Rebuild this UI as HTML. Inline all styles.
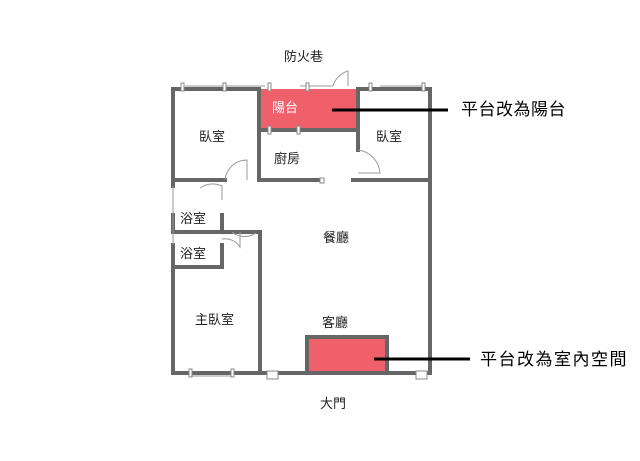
<!DOCTYPE html>
<html><head><meta charset="utf-8"><style>
body{margin:0;background:#fff;width:640px;height:461px;overflow:hidden;position:relative;font-family:"Liberation Sans","Noto Sans CJK TC",sans-serif}
.t{position:absolute;font-size:13px;color:#222;white-space:nowrap;line-height:1}
.b{position:absolute;font-size:17px;color:#000;white-space:nowrap;line-height:1}
</style></head><body>
<svg width="640" height="461" style="position:absolute;left:0;top:0">
<rect x="259" y="89" width="99" height="41" fill="#f0606a"/>
<rect x="307" y="337" width="80" height="36" fill="#f0606a"/>
<g stroke="#666" stroke-width="4" fill="none" stroke-linecap="square">
<path d="M173 89H259M259 89V180M358 89H430V373"/>
<path d="M259 130H358M358 89V150"/>
<path d="M173 89V186M173 215V232M173 245V267"/>
<path d="M173 267V373H260"/>
<path d="M173 180H225M260 180H322M353 180H430"/>
<path d="M173 232H260M260 232V373M173 267H222M222 215V232M222 245V267"/>
<path d="M260 373H430"/>
<path d="M307 373V337H387V373"/>
</g>
<g stroke="#999" stroke-width="1" fill="none">
<path d="M185 86H226M226 86H265M300 86H333M380 86H423"/>
<path d="M333 86A22 22 0 0 1 348 71V86"/>
<path d="M225 180A22 22 0 0 1 247 160V180"/>
<path d="M358 150A25 25 0 0 1 380 173H358"/>
<path d="M200 188A22 22 0 0 1 222 186V200M173 186V245"/>
<path d="M222 239A18 18 0 0 1 240 247V232M232 232A20 20 0 0 0 256 233"/>
<path d="M190 376H233"/>
</g>
<g fill="#fff" stroke="#888" stroke-width="1">
<rect x="181" y="83" width="3" height="8"/><rect x="223" y="83" width="3" height="8"/>
<rect x="268" y="83" width="3" height="8"/><rect x="306" y="83" width="3" height="8"/>
<rect x="369" y="83" width="3" height="8"/><rect x="422" y="83" width="3" height="8"/>
<rect x="268" y="126" width="3" height="8"/><rect x="297" y="126" width="3" height="8"/>
<rect x="189" y="369" width="3" height="8"/><rect x="231" y="369" width="3" height="8"/>
<rect x="267" y="371" width="11" height="8"/><rect x="416" y="371" width="11" height="8"/>
<rect x="320" y="178" width="4" height="5"/>
</g>
<g stroke="#000" stroke-width="3">
<line x1="332" y1="110" x2="448" y2="110"/>
<line x1="374" y1="359" x2="470" y2="359"/>
</g>
</svg>
<div class="t" style="left:284px;top:50px">防火巷</div>
<div class="t" style="left:272px;top:101px;color:#fff">陽台</div>
<div class="t" style="left:199px;top:130px">臥室</div>
<div class="t" style="left:376px;top:130px">臥室</div>
<div class="t" style="left:274px;top:152px">廚房</div>
<div class="t" style="left:180px;top:212px">浴室</div>
<div class="t" style="left:180px;top:247px">浴室</div>
<div class="t" style="left:323px;top:231px">餐廳</div>
<div class="t" style="left:195px;top:313px">主臥室</div>
<div class="t" style="left:322px;top:316px">客廳</div>
<div class="t" style="left:320px;top:397px">大門</div>
<div class="b" style="left:461px;top:101px;letter-spacing:0.5px">平台改為陽台</div>
<div class="b" style="left:480px;top:351px;letter-spacing:1.5px">平台改為室內空間</div>
</body></html>
